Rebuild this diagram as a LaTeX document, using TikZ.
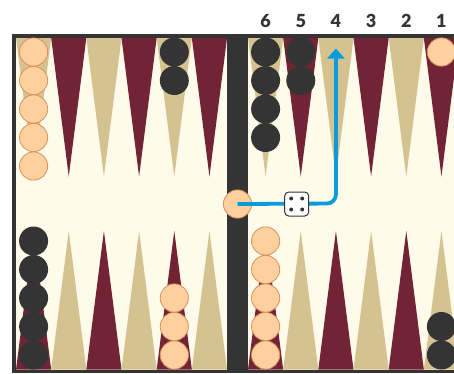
\documentclass[tikz,border=0pt]{standalone}
\usepackage{fontspec}
\newfontfamily\labfont{Lato Black}
\usetikzlibrary{arrows.meta}
\definecolor{cream}{HTML}{FFFBEA}
\definecolor{maroon}{HTML}{722336}
\definecolor{tan}{HTML}{D4C291}
\definecolor{dark}{HTML}{343434}
\definecolor{peach}{HTML}{FDD09E}
\definecolor{peachedge}{HTML}{D9925E}
\definecolor{moveblue}{HTML}{0A9BDB}
\tikzset{
  blk/.style={circle, fill=dark, minimum size=29pt, inner sep=0pt},
  pch/.style={circle, fill=peach, draw=peachedge, line width=0.8pt, minimum size=28.2pt, inner sep=0pt},
  ptlabel/.style={font=\labfont\fontsize{18}{18}\selectfont, text=dark, inner sep=0pt},
  dieface/.style={draw=dark, fill=white, line width=1pt, rounded corners=4pt, minimum size=24pt, inner sep=0pt},
  pip/.style={fill=dark},
  moveline/.style={draw=moveblue, line width=3.8pt, rounded corners=9pt, -{Triangle[width=17pt,length=10pt]}}
}
\begin{document}
\begin{tikzpicture}[x=1pt,y=-1pt]
\useasboundingbox (0,0) rectangle (454,373);
\fill[white] (0,0) rectangle (454,373);
% board
\fill[dark] (12,34) rectangle (454,373);
\fill[cream] (16,38) rectangle (454,369.5);
\def\w{35.17}
% points
\foreach \i in {0,...,5}{
  \pgfmathsetmacro{\xa}{16+\i*\w}
  \pgfmathsetmacro{\xb}{248+\i*\w}
  \pgfmathtruncatemacro{\ev}{mod(\i,2)}
  \ifnum\ev=0
    \def\topc{tan}\def\botc{maroon}
  \else
    \def\topc{maroon}\def\botc{tan}
  \fi
  \fill[\topc] (\xa,38) -- (\xa+\w,38) -- (\xa+\w/2,176.5) -- cycle;
  \fill[\topc] (\xb,38) -- (\xb+\w,38) -- (\xb+\w/2,176.5) -- cycle;
  \fill[\botc] (\xa,369.5) -- (\xa+\w,369.5) -- (\xa+\w/2,231) -- cycle;
  \fill[\botc] (\xb,369.5) -- (\xb+\w,369.5) -- (\xb+\w/2,231) -- cycle;
}
% bar
\fill[dark] (227,38) rectangle (248,369.5);
% top checkers
\foreach \k in {0,...,4} \node[pch] (tlp\k) at (33.6,{52+\k*28.5}) {};
\foreach \k in {0,1} \node[blk] (tlb\k) at (174.3,{52+\k*28.5}) {};
\foreach \k in {0,...,3} \node[blk] (trb\k) at (265.6,{52+\k*28.5}) {};
\foreach \k in {0,1} \node[blk] (trc\k) at (300.8,{52+\k*28.5}) {};
\node[pch] (trp0) at (441.4,52) {};
% bottom checkers
\foreach \k in {0,...,4} \node[blk] (blb\k) at (33.6,{355-\k*28.5}) {};
\foreach \k in {0,...,2} \node[pch] (blp\k) at (174.3,{355-\k*28.5}) {};
\foreach \k in {0,...,4} \node[pch] (brp\k) at (265.6,{355-\k*28.5}) {};
\foreach \k in {0,1} \node[blk] (brb\k) at (441.4,{355-\k*28.5}) {};
% bar checker
\node[pch] (bar) at (237.5,204) {};
% labels
\foreach \n [count=\c from 0] in {6,5,4,3,2,1}
  \node[ptlabel] (lab\n) at ({265.6+\c*\w},21) {\n};
% move
\coordinate (turn) at (335.9,203.5);
\coordinate (tip) at (335.9,48.5);
\draw[moveline] (bar.center) -- (turn) -- (tip);
% die
\node[dieface] (die) at (296.7,204) {};
\foreach \dx/\dy in {-5.5/-5.5,5.5/-5.5,-5.5/5.5,5.5/5.5}
  \fill[pip] ([shift={(\dx,\dy)}]die.center) circle (2);
\end{tikzpicture}
\end{document}
